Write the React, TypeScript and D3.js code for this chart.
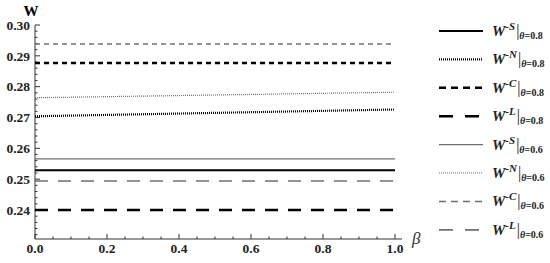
import { useEffect, useRef } from "react";
import * as d3 from "d3";

// beta at the two ends of every curve
const betaValues = [0, 1];

const wS08 = [0.2529, 0.2529];
const wN08 = [0.2704, 0.2726];
const wC08 = [0.2877, 0.2877];
const wL08 = [0.24, 0.24];
const wS06 = [0.2566, 0.2566];
const wN06 = [0.2764, 0.2782];
const wC06 = [0.2938, 0.2938];
const wL06 = [0.2494, 0.2494];

const xTicks = [0, 0.2, 0.4, 0.6, 0.8, 1.0];
const yTicks = [0.24, 0.25, 0.26, 0.27, 0.28, 0.29, 0.3];

const seriesList = [
  { sup: "-S", theta: "0.8", values: wS08, color: "#000", width: 2.2, dash: null, legendDash: null },
  { sup: "-N", theta: "0.8", values: wN08, color: "#000", width: 2.2, dash: "1,1", legendDash: "1,1" },
  { sup: "-C", theta: "0.8", values: wC08, color: "#000", width: 2.4, dash: "5,4", legendDash: "7,5" },
  { sup: "-L", theta: "0.8", values: wL08, color: "#000", width: 2.6, dash: "13,10", legendDash: "14,12" },
  { sup: "-S", theta: "0.6", values: wS06, color: "#707070", width: 1.3, dash: null, legendDash: null },
  { sup: "-N", theta: "0.6", values: wN06, color: "#707070", width: 1.2, dash: "1,1", legendDash: "1,1" },
  { sup: "-C", theta: "0.6", values: wC06, color: "#707070", width: 1.5, dash: "5,4", legendDash: "7,5" },
  { sup: "-L", theta: "0.6", values: wL06, color: "#707070", width: 1.7, dash: "13,10", legendDash: "14,12" },
];

const serif = "Liberation Serif";

function App() {
  const svgRef = useRef<SVGSVGElement | null>(null);

  useEffect(() => {
    const svg = d3.select(svgRef.current);
    svg.selectAll("*").remove();

    const x = d3.scaleLinear().domain([0, 1]).range([35, 395]);
    const y = d3.scaleLinear().domain([0.24, 0.3]).range([210, 25]);
    const axisBottomY = 239;
    const axisRightX = 402;

    const axes = svg.append("g").attr("stroke", "#333").attr("stroke-width", 1);

    // y axis
    axes.append("line").attr("x1", x(0)).attr("x2", x(0)).attr("y1", y(0.3)).attr("y2", axisBottomY);
    const yMinor = d3.range(0.232, 0.3001, 0.002);
    axes
      .selectAll("line.ymin")
      .data(yMinor)
      .join("line")
      .attr("x1", x(0))
      .attr("x2", (d) => x(0) + (yTicks.some((t) => Math.abs(t - d) < 1e-6) ? 5 : 2.5))
      .attr("y1", (d) => y(d))
      .attr("y2", (d) => y(d));

    // x axis
    axes.append("line").attr("x1", x(0)).attr("x2", axisRightX).attr("y1", axisBottomY).attr("y2", axisBottomY);
    const xMinor = d3.range(0, 1.0001, 0.05);
    axes
      .selectAll("line.xmin")
      .data(xMinor)
      .join("line")
      .attr("x1", (d) => x(d))
      .attr("x2", (d) => x(d))
      .attr("y1", axisBottomY)
      .attr("y2", (d) => axisBottomY - (xTicks.some((t) => Math.abs(t - d) < 1e-6) ? 5 : 2.5));

    // tick labels
    svg
      .append("g")
      .selectAll("text")
      .data(yTicks)
      .join("text")
      .attr("x", 30)
      .attr("y", (d) => y(d))
      .attr("dy", "0.35em")
      .attr("text-anchor", "end")
      .style("font-family", serif)
      .attr("font-weight", "bold")
      .attr("font-size", 13.5)
      .attr("fill", "#222")
      .text((d) => d.toFixed(2));

    svg
      .append("g")
      .selectAll("text")
      .data(xTicks)
      .join("text")
      .attr("x", (d) => x(d))
      .attr("y", 253)
      .attr("text-anchor", "middle")
      .style("font-family", serif)
      .attr("font-weight", "bold")
      .attr("font-size", 13.5)
      .attr("fill", "#222")
      .text((d) => d.toFixed(1));

    svg
      .append("text")
      .attr("x", 31)
      .attr("y", 16)
      .attr("text-anchor", "middle")
      .style("font-family", serif)
      .attr("font-weight", "bold")
      .attr("font-size", 15)
      .text("W");

    svg
      .append("text")
      .attr("x", 412)
      .attr("y", 244)
      .style("font-family", serif)
      .attr("font-style", "italic")
      .attr("font-size", 17)
      .attr("fill", "#333")
      .text("β");

    // curves
    const line = d3
      .line<number>()
      .x((_, i) => x(betaValues[i]))
      .y((d) => y(d));

    svg
      .append("g")
      .selectAll("path")
      .data(seriesList)
      .join("path")
      .attr("fill", "none")
      .attr("stroke", (s) => s.color)
      .attr("stroke-width", (s) => s.width)
      .attr("stroke-dasharray", (s) => s.dash)
      .attr("d", (s) => line(s.values));

    // legend
    const legend = svg.append("g");
    seriesList.forEach((s, i) => {
      const ly = 31 + i * 28.4;
      legend
        .append("line")
        .attr("x1", 439)
        .attr("x2", 483)
        .attr("y1", ly)
        .attr("y2", ly)
        .attr("stroke", s.color)
        .attr("stroke-width", s.width)
        .attr("stroke-dasharray", s.legendDash);
      const t = legend
        .append("text")
        .attr("x", 492)
        .attr("y", ly + 5)
        .style("font-family", serif)
        .attr("font-weight", "bold")
        .attr("fill", "#222");
      t.append("tspan").attr("font-style", "italic").attr("font-size", 15).text("W");
      t.append("tspan").attr("font-style", "italic").attr("font-size", 11).attr("dy", -6).text(s.sup);
      t.append("tspan").attr("font-size", 16).attr("dy", 6).attr("dx", 1).attr("font-weight", "normal").text("|");
      t.append("tspan").attr("font-size", 10).attr("dy", 3).attr("font-style", "italic").text("θ");
      t.append("tspan").attr("font-size", 10).text("=" + s.theta);
    });
  }, []);

  return (
    <div style={{ position: "absolute", left: 0, top: 0, background: "#fff" }}>
      <svg ref={svgRef} width={550} height={263} style={{ display: "block" }} />
    </div>
  );
}

export default App;
